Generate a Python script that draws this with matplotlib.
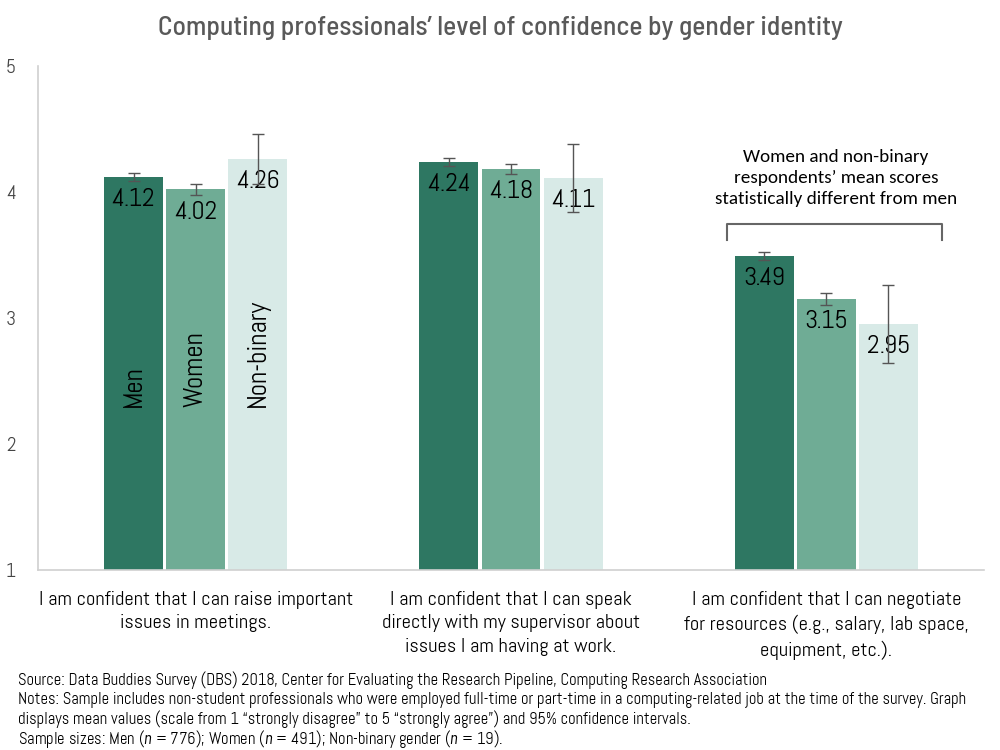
import matplotlib.pyplot as plt
import numpy as np

plt.rcParams['mathtext.fontset'] = 'custom'
plt.rcParams['mathtext.it'] = 'Barlow Semi Condensed:italic'
plt.rcParams['mathtext.rm'] = 'Abel'

# Data
questions = ['I am confident that I can raise important\nissues in meetings.',
             'I am confident that I can speak\ndirectly with my supervisor about\nissues I am having at work.',
             'I am confident that I can negotiate\nfor resources (e.g., salary, lab space,\nequipment, etc.).']
groups = ['Men', 'Women', 'Non-binary']
men = [4.12, 4.24, 3.49]
women = [4.02, 4.18, 3.15]
nonbinary = [4.26, 4.11, 2.95]
men_ci = [0.03, 0.03, 0.03]
women_ci = [0.04, 0.04, 0.05]
nonbinary_ci = [0.20, 0.27, 0.31]

colors = ['#2e7762', '#6fac95', '#d8eae7']
cond = ['Abel', 'DejaVu Sans']

fig = plt.figure(figsize=(10, 7.5), dpi=100)
ax = fig.add_axes([0.038, 0.24, 0.946, 0.672])

x = np.arange(len(questions))
width = 0.187
step = 0.197
series = [men, women, nonbinary]
cis = [men_ci, women_ci, nonbinary_ci]

for i, (vals, ci) in enumerate(zip(series, cis)):
    pos = x + (i - 1) * step
    ax.bar(pos, np.array(vals) - 1, width, bottom=1, color=colors[i], zorder=2)
    ax.errorbar(pos, vals, yerr=ci, fmt='none', ecolor='#555555', elinewidth=1,
                capsize=4, capthick=1, zorder=4)
    for p, v in zip(pos, vals):
        ax.text(p, v - 0.18, f'{v:.2f}', ha='center', va='center', fontsize=18.5,
                family=cond, color='black', zorder=3)

# Rotated series labels inside first group
for i, g in enumerate(groups):
    ax.text(x[0] + (i - 1) * step, 2.29, g, rotation=90, ha='center', va='bottom',
            fontsize=19.5, family=cond, color='black', zorder=3)

# Significance bracket
bx0 = x[2] - 0.315
bx1 = x[2] + 0.368
ax.plot([bx0, bx0, bx1, bx1], [3.62, 3.75, 3.75, 3.62], color='#666666', lw=1.5,
        zorder=3)
ax.text(x[2] + 0.03, 3.88,
        'Women and non-binary\nrespondents\u2019 mean scores\nstatistically different from men',
        ha='center', va='bottom', fontsize=13.8, family=['Carlito', 'DejaVu Sans'],
        linespacing=1.38, color='black')

ax.set_xlim(-0.5, 2.5)
ax.set_ylim(1, 5)
ax.set_yticks([1, 2, 3, 4, 5])
ax.set_xticks(x)
ax.set_xticklabels(questions, fontsize=14.7, family=cond, linespacing=1.4)
ax.tick_params(axis='x', length=0, pad=15)
ax.tick_params(axis='y', length=0, pad=16, labelsize=14, labelcolor='#444444')
for lbl in ax.get_yticklabels():
    lbl.set_family(cond)
for s in ['top', 'right']:
    ax.spines[s].set_visible(False)
for s in ['left', 'bottom']:
    ax.spines[s].set_color('#d0d0d0')
    ax.spines[s].set_linewidth(1.2)

fig.text(0.5, 0.962, 'Computing professionals\u2019 level of confidence by gender identity',
         ha='center', va='center', fontsize=19.8,
         family=['Barlow Semi Condensed', 'DejaVu Sans'], color='#595959',
         fontweight='medium')

notes = ['Source: Data Buddies Survey (DBS) 2018, Center for Evaluating the Research Pipeline, '
         'Computing Research Association',
         'Notes: Sample includes non-student professionals who were employed full-time or part-time '
         'in a computing-related job at the time of the survey. Graph',
         'displays mean values (scale from 1 \u201cstrongly disagree\u201d to 5 \u201cstrongly agree\u201d) '
         'and 95% confidence intervals.',
         'Sample sizes: Men ($n$ = 776); Women ($n$ = 491); Non-binary gender ($n$ = 19).']
for k, line in enumerate(notes):
    fig.text(0.018, 0.093 - k * 0.0262, line, ha='left', va='center', fontsize=11.9,
             family=cond, color='black')

plt.savefig('out.png', dpi=100)
